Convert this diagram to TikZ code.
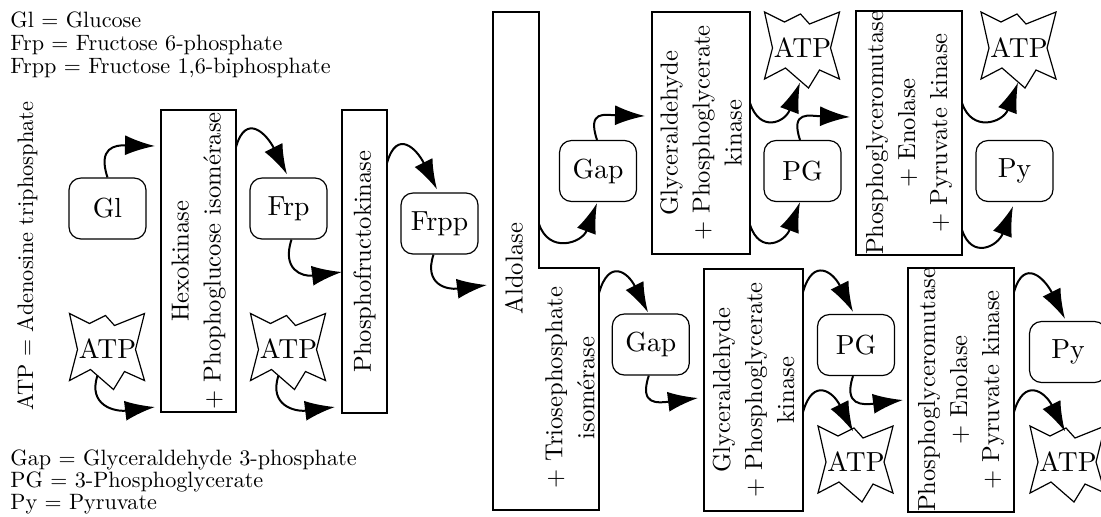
\documentclass[tikz,border=0pt]{standalone}
\usepackage{fontspec}
\setmainfont{lmroman10-regular.otf}
\usetikzlibrary{arrows.meta,calc}
\tikzset{
  x=0.5pt, y=-0.5pt,
  every node/.style={inner sep=0pt},
  sbox/.style={draw, line width=0.6pt, rounded corners=6pt, minimum width=38.5pt, minimum height=30.5pt, font=\fontsize{13.8}{16}\selectfont},
  enz/.style={draw, line width=0.6pt, rotate=90, align=center, font=\fontsize{12.3}{16}\selectfont},
  enztext/.style={rotate=90, align=center, font=\fontsize{12.3}{16}\selectfont},
  atpt/.style={font=\fontsize{13.8}{16}\selectfont},
  starline/.style={line width=0.6pt, line join=miter},
  legend/.style={anchor=base west, font=\fontsize{11.1}{13}\selectfont},
  arr/.style={line width=1pt, -{Latex[length=15pt,width=10pt]}},
}
\newcommand\atpstar[2]{%
  \node[atpt] (#1) at #2 {ATP};
  \draw[starline, shift={($(#1.center)+(0,2.5)$)}] (-38,-38) -- (-18,-28) -- (-2,-36) -- (7,-26) -- (37,-38) -- (28,-2) -- (37,29) -- (17,20) -- (6,38) -- (-17,18) -- (-38,29) -- (-30,-2) -- cycle;}
\begin{document}
\begin{tikzpicture}
\useasboundingbox (0,0) rectangle (1101,516);
% legends
\node[legend] (l1) at (10,27.3) {Gl $=$ Glucose};
\node[legend] (l2) at (10,50) {Frp $=$ Fructose 6-phosphate};
\node[legend] (l3) at (10,73) {Frpp $=$ Fructose 1,6-biphosphate};
\node[legend] (l4) at (10,465.5) {Gap $=$ Glyceraldehyde 3-phosphate};
\node[legend] (l5) at (10,487.7) {PG $=$ 3-Phosphoglycerate};
\node[legend] (l6) at (10,509) {Py $=$ Pyruvate};
\node[rotate=90, anchor=base, font=\fontsize{11.2}{13}\selectfont] (atpdef) at (33,256) {ATP $=$ Adenosine triphosphate};
% small nodes
\node[sbox] (Gl) at (107.5,208.5) {Gl};
\node[sbox] (Frp) at (288.5,208.5) {Frp};
\node[sbox] (Frpp) at (439.5,223.5) {Frpp};
\node[sbox] (Gap1) at (598,171) {Gap};
\node[sbox] (Gap2) at (650.8,344.5) {Gap};
\node[sbox] (PG1) at (802.5,171) {PG};
\node[sbox] (PG2) at (856,345) {PG};
\node[sbox] (Py1) at (1014.5,171) {Py};
\node[sbox] (Py2) at (1068,352) {Py};
% ATP stars
\atpstar{A1}{(107.5,349)}
\atpstar{A2}{(288.5,349)}
\atpstar{A3}{(802.5,47.5)}
\atpstar{A4}{(1019,47.5)}
\atpstar{A5}{(856,461.5)}
\atpstar{A6}{(1068,461.5)}
% enzymes
\node[enz, minimum width=151pt, minimum height=37.5pt] (hexo) at (198.5,261) {Hexokinase\\+ Phophoglucose isomérase};
\node[enz, minimum width=151.5pt, minimum height=22.5pt] (pfk) at (364.5,261.5) {Phosphofructokinase};
\node[enz, minimum width=121pt, minimum height=49pt] (gly1) at (701,133) {Glyceraldehyde\\+ Phosphoglycerate\\kinase};
\node[enz, minimum width=121pt, minimum height=53pt] (mut1) at (909,133) {Phosphoglyceromutase\\+ Enolase\\+ Pyruvate kinase};
\node[enz, minimum width=121pt, minimum height=49.5pt] (gly2) at (753.5,390) {Glyceraldehyde\\+ Phosphoglycerate\\kinase};
\node[enz, minimum width=121pt, minimum height=53pt] (mut2) at (961,390) {Phosphoglyceromutase\\+ Enolase\\+ Pyruvate kinase};
% aldolase
\draw[line width=0.6pt] (493,12) -- (539,12) -- (539,268) -- (599,268) -- (599,510) -- (493,510) -- cycle;
\node[rotate=90, anchor=base, font=\fontsize{12.3}{16}\selectfont] (ald) at (522.5,268.5) {Aldolase};
\node[enztext] (trio) at (570,388) {+ Triosephosphate\\isomérase};
\coordinate (aldIn) at (487,285);
\coordinate (aldUp) at (539,224);
\coordinate (aldLo) at (599,293);
% arrows
\draw[arr] (Gl.north) .. controls +(-10,-30) and +(-40,-1) .. ($(hexo.center)+(-43.5,-115)$);
\draw[arr] ($(hexo.center)+(37.5,-114)$) .. controls +(10,-35) and +(-20,-40) .. ($(Frp.north)+(-1.5,-3)$);
\draw[arr] ($(Frp.south)+(3,0)$) .. controls +(-10,30) and +(-40,5) .. ($(pfk.center)+(-22.5,10.5)$);
\draw[arr] ($(A1.center)+(-10,26.5)$) .. controls +(-10,30) and +(-40,5) .. ($(hexo.center)+(-43.5,146)$);
\draw[arr] ($(A2.center)+(-10,26.5)$) .. controls +(-10,30) and +(-40,5) .. ($(pfk.center)+(-29.5,145.5)$);
\draw[arr] ($(pfk.center)+(22.5,-98.5)$) .. controls +(10,-35) and +(-20,-40) .. ($(Frpp.north)+(-2.5,-3)$);
\draw[arr] ($(Frpp.south)+(-6,0)$) .. controls +(-10,30) and +(-40,5) .. (aldIn);
\draw[arr] (aldUp) .. controls +(10,30) and +(-15,40) .. ($(Gap1.south)+(-1,1)$);
\draw[arr] ($(Gap1.north)+(-1,0)$) .. controls +(-10,-30) and +(-40,-1) .. ($(gly1.center)+(-56,-17)$);
\draw[arr] (aldLo) .. controls +(10,-35) and +(-20,-40) .. ($(Gap2.north)+(-2.8,-1)$);
\draw[arr] ($(Gap2.south)+(-2,0)$) .. controls +(-10,30) and +(-40,5) .. ($(gly2.center)+(-55.5,8)$);
\draw[arr] ($(gly1.center)+(49,-30)$) .. controls +(10,30) and +(-15,40) .. ($(A3.center)+(-2.5,35)$);
\draw[arr] ($(gly1.center)+(49,92)$) .. controls +(10,30) and +(-15,40) .. ($(PG1.south)+(-2.5,0)$);
\draw[arr] ($(PG1.north)+(-2.5,0)$) .. controls +(-10,-30) and +(-40,-1) .. ($(mut1.center)+(-59,-16)$);
\draw[arr] ($(mut1.center)+(53,-30)$) .. controls +(10,30) and +(-15,40) .. ($(A4.center)+(-1,35)$);
\draw[arr] ($(mut1.center)+(53,97)$) .. controls +(10,30) and +(-15,40) .. ($(Py1.south)+(-1.5,4)$);
\draw[arr] ($(gly2.center)+(49.5,-98)$) .. controls +(10,-35) and +(-20,-40) .. ($(PG2.north)+(-3,-2)$);
\draw[arr] ($(gly2.center)+(49.5,22)$) .. controls +(10,-35) and +(-20,-40) .. ($(A5.center)+(-3,-30)$);
\draw[arr] ($(PG2.south)+(-3,0)$) .. controls +(-10,30) and +(-40,5) .. ($(mut2.center)+(-58,10)$);
\draw[arr] ($(mut2.center)+(53,-98)$) .. controls +(10,-35) and +(-20,-40) .. ($(Py2.north)+(-3,-2)$);
\draw[arr] ($(mut2.center)+(53,22)$) .. controls +(10,-35) and +(-20,-40) .. ($(A6.center)+(-3,-30)$);
\end{tikzpicture}
\end{document}
